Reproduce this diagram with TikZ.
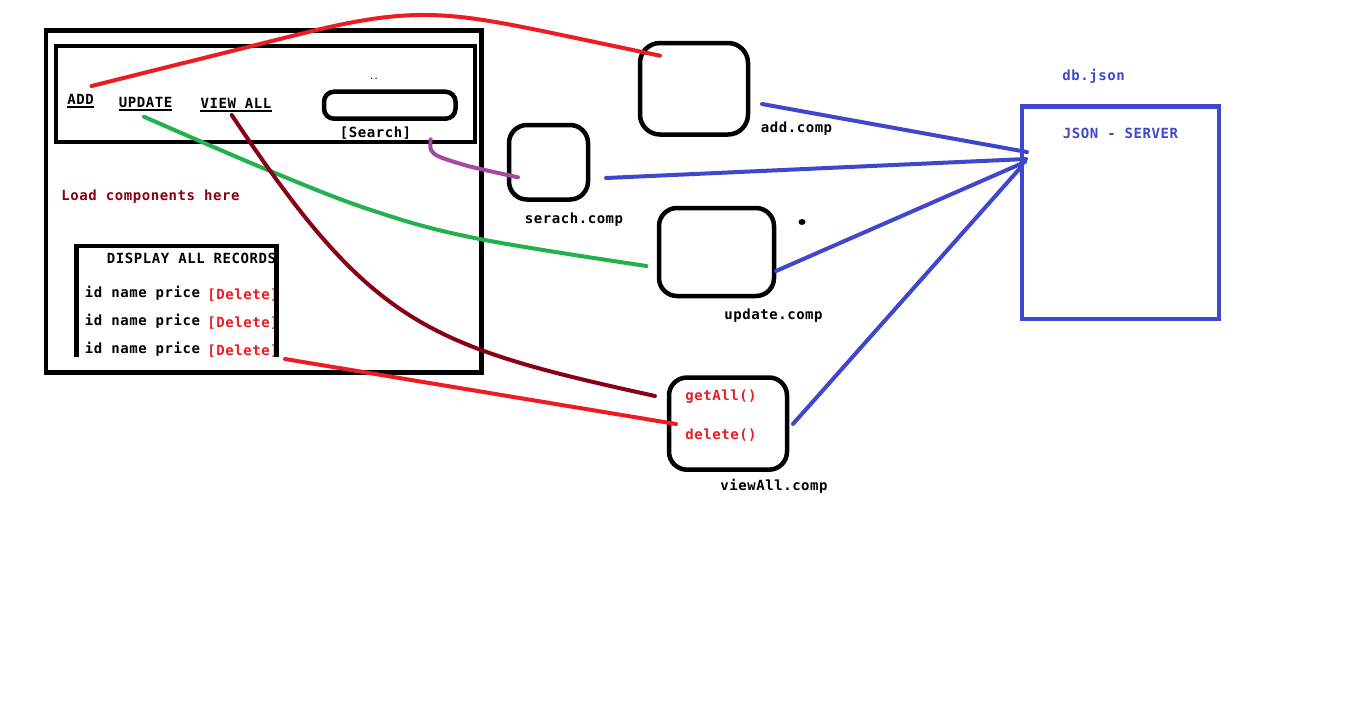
\documentclass[tikz,border=0pt]{standalone}
\usepackage{fontspec}
\setmainfont{DejaVu Sans Mono}[LetterSpace=4]
\definecolor{pred}{HTML}{ED1C24}
\definecolor{pgreen}{HTML}{22B14C}
\definecolor{pmaroon}{HTML}{880015}
\definecolor{ppurple}{HTML}{A349A4}
\definecolor{pblue}{HTML}{3F48CC}
\begin{document}
\begin{tikzpicture}[x=1pt,y=-1pt,
  txt/.style={font=\fontsize{14}{16}\selectfont\bfseries, inner sep=0pt, anchor=center, yshift=-2pt},
  frame/.style={draw=black, line width=4.5pt, inner sep=0pt},
  compbox/.style={frame, rounded corners=18pt},
  wire/.style={line width=4pt, line cap=round, line join=round},
  ul/.style={line width=2pt},
]
\useasboundingbox[fill=white] (0,0) rectangle (1355,716);

% ---------- application page ----------
\node[frame, minimum width=435.5pt, minimum height=341.8pt] (page) at (263.75,201.6) {};
\node[frame, minimum width=419pt, minimum height=96pt] (nav) at (265.5,93.8) {};

\node[txt] (add) at (80.5,97) {ADD};
\node[txt] (upd) at (145.5,100) {UPDATE};
\node[txt] (vall) at (236,101) {VIEW ALL};
\draw[ul] ([yshift=-3pt]add.base west) -- ([yshift=-3pt]add.base east);
\draw[ul] ([yshift=-3pt]upd.base west) -- ([yshift=-3pt]upd.base east);
\draw[ul] ([yshift=-3pt]vall.base west) -- ([yshift=-3pt]vall.base east);

\node[frame, rounded corners=10pt, minimum width=131.5pt, minimum height=27pt] (sbox) at (389.75,105.2) {};
\node[font=\fontsize{7}{7}\selectfont\bfseries, inner sep=0pt] (dots) at (374,79) {..};
\node[txt] (search) at (375.5,131) {[Search]};

\node[txt, text=pmaroon] (load) at (150.5,195) {Load components here};

% record list
\node[txt] (disp) at (191.5,256) {DISPLAY ALL RECORDS};
\foreach \i/\y in {1/291,2/319,3/347}{
  \node[txt] (row\i) at (142.5,\y) {id name price};
  \node[txt, text=pred] (del\i) at (243,\y+2) {[Delete]};
}
\draw[line width=4.5pt] (76.5,357) -- (76.5,246) -- (276.5,246) -- (276.5,357);

% ---------- components ----------
\node[compbox, rounded corners=20pt, minimum width=108pt, minimum height=91.5pt] (addc) at (694,88.75) {};
\node[txt] (addl) at (796.5,127) {add.comp};

\node[compbox, minimum width=79pt, minimum height=74.5pt] (srch) at (548.5,162.25) {};
\node[txt] (srchl) at (574,218) {serach.comp};

\node[compbox, minimum width=115pt, minimum height=88pt] (updc) at (716.5,252) {};
\node[txt] (updl) at (773.5,314) {update.comp};
\fill (802,222) ellipse (3.5pt and 3pt);

\node[compbox, minimum width=118pt, minimum height=92.2pt] (viewc) at (728,423.6) {};
\node[txt, text=pred] (getall) at (721,395) {getAll()};
\node[txt, text=pred] (delf) at (721,433) {delete()};
\node[txt] (viewl) at (774,484) {viewAll.comp};

% ---------- server ----------
\node[draw=pblue, line width=4.5pt, minimum width=197pt, minimum height=212.5pt] (srv) at (1120.5,212.75) {};
\node[txt, text=pblue] (srvl) at (1120.5,131) {JSON - SERVER};
\node[txt, text=pblue] (db) at (1093.5,74) {db.json};

% ---------- connector end points ----------
\coordinate (addS) at (91.5,86);
\coordinate (addE) at (660,55.7);
\coordinate (updS) at (144,116.7);
\coordinate (updE) at (646.5,266);
\coordinate (viewS) at (231.7,115);
\coordinate (viewE) at (655,396);
\coordinate (delS) at (285,359);
\coordinate (delE) at (676,424);
\coordinate (srchS) at (430.7,139.3);
\coordinate (srchE) at (518,177.3);

\coordinate (b1) at (762,104);
\coordinate (b2) at (606,178);
\coordinate (b3) at (776,271);
\coordinate (b4) at (793,424);
\coordinate (s1) at (1027,152);
\coordinate (s2) at (1026,159);
\coordinate (s3) at (1025,162);
\coordinate (s4) at (1022,166);

% ---------- connectors ----------
\draw[wire, pred] (addS) -- (300,34)
  .. controls (412,6) and (448,11.2) .. (560,34.7) -- (addE);
\draw[wire, pgreen] plot[smooth, tension=0.6] coordinates
  {(updS) (267.7,170) (371,210) (474.5,238) (updE)};
\draw[wire, pmaroon] (viewS) .. controls (371.7,325) and (425,345.4) .. (viewE);
\draw[wire, pred] (delS) -- (delE);
\draw[wire, ppurple] plot[smooth, tension=0.5] coordinates
  {(srchS) (431,150) (440,157) (470,166.5) (srchE)};

\draw[wire, pblue] (b1) -- (s1);
\draw[wire, pblue] (b2) -- (s2);
\draw[wire, pblue] (b3) -- (s3);
\draw[wire, pblue] (b4) -- (s4);
\end{tikzpicture}
\end{document}
